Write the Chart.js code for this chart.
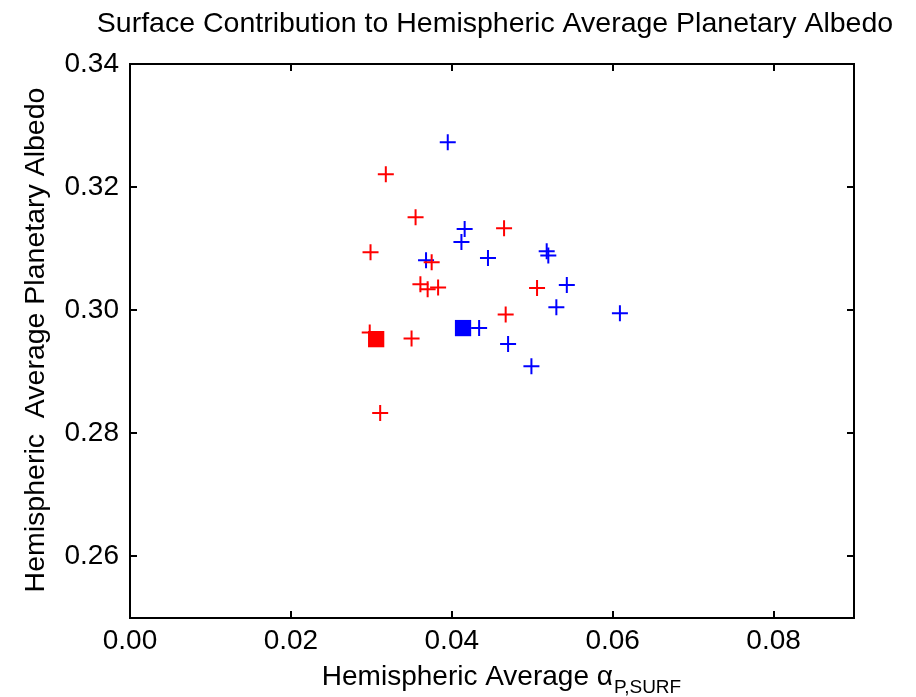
<!DOCTYPE html>
<html>
<head>
<meta charset="utf-8">
<script src="https://cdn.jsdelivr.net/npm/chart.js@4.4.1/dist/chart.umd.min.js"></script>
<style>
  html, body { margin:0; padding:0; background:#fff; }
  #wrap { width:916px; height:697px; }
</style>
</head>
<body>
<div id="wrap"><canvas id="c" width="916" height="697"></canvas></div>
<script>
// values
const redX  = [0.0318, 0.0355, 0.0465, 0.0299, 0.0375, 0.0361, 0.0370, 0.0383, 0.0506, 0.0467, 0.0298, 0.0350, 0.0311];
const redY  = [0.3221, 0.3151, 0.3133, 0.3094, 0.3078, 0.3042, 0.3034, 0.3037, 0.3036, 0.2993, 0.2964, 0.2954, 0.2833];
const blueX = [0.0395, 0.0416, 0.0412, 0.0368, 0.0445, 0.0518, 0.0520, 0.0543, 0.0530, 0.0609, 0.0434, 0.0470, 0.0499];
const blueY = [0.3273, 0.3132, 0.3111, 0.3081, 0.3085, 0.3096, 0.3089, 0.3041, 0.3005, 0.2995, 0.2971, 0.2945, 0.2909];
const redSquare  = [0.0306, 0.2953];
const blueSquare = [0.0414, 0.2971];

const xTicks = [0.00, 0.02, 0.04, 0.06, 0.08];
const yTicks = [0.26, 0.28, 0.30, 0.32, 0.34];

const titleText = "Surface Contribution to Hemispheric Average Planetary Albedo";
const yTitle = "Hemispheric  Average Planetary Albedo";
const xTitleMain = "Hemispheric Average \u03b1";
const xTitleSub = "P,SURF";

const FONT = "'Liberation Sans', Arial, sans-serif";

function pts(xs, ys){ return xs.map((x,i)=>({x, y: ys[i]})); }

// frame, inward ticks and text
const decor = {
  id: 'decor',
  beforeDatasetsDraw(chart){
    const {ctx, chartArea:a, scales} = chart;
    ctx.save();
    ctx.strokeStyle = '#000';
    ctx.lineWidth = 2;
    ctx.strokeRect(a.left, a.top, a.right - a.left, a.bottom - a.top);
    const tl = 7;
    ctx.beginPath();
    scales.x.ticks.forEach(t=>{
      const px = Math.round(scales.x.getPixelForValue(t.value));
      if(px <= a.left + 1) return;
      ctx.moveTo(px, a.bottom); ctx.lineTo(px, a.bottom - tl);
      ctx.moveTo(px, a.top); ctx.lineTo(px, a.top + tl);
    });
    scales.y.ticks.forEach(t=>{
      const py = Math.round(scales.y.getPixelForValue(t.value));
      if(py <= a.top + 1) return;
      ctx.moveTo(a.left, py); ctx.lineTo(a.left + tl, py);
      ctx.moveTo(a.right, py); ctx.lineTo(a.right - tl, py);
    });
    ctx.stroke();
    ctx.restore();
  },
  afterDraw(chart){
    const {ctx} = chart;
    ctx.save();
    ctx.fillStyle = '#000';
    // title
    ctx.font = "28.5px " + FONT;
    ctx.textAlign = 'center';
    ctx.textBaseline = 'alphabetic';
    ctx.fillText(titleText, 495, 32);
    // y title
    ctx.save();
    ctx.font = "28.5px " + FONT;
    ctx.translate(44, 340);
    ctx.rotate(-Math.PI/2);
    ctx.fillText(yTitle, 0, 0);
    ctx.restore();
    // x title with subscript
    ctx.textAlign = 'left';
    ctx.font = "28px " + FONT;
    const w1 = ctx.measureText(xTitleMain).width;
    ctx.font = "19px " + FONT;
    const w2 = ctx.measureText(xTitleSub).width;
    const x0 = 501 - (w1 + w2)/2;
    ctx.font = "28px " + FONT;
    ctx.fillText(xTitleMain, x0, 685);
    ctx.font = "19px " + FONT;
    ctx.fillText(xTitleSub, x0 + w1 + 1, 693);
    ctx.restore();
  }
};

const cross = (color, data) => ({
  data, pointStyle:'cross', pointRadius:8, pointHoverRadius:8,
  borderColor:color, backgroundColor:color, pointBorderWidth:2, showLine:false
});
const square = (color, data) => ({
  data, pointStyle:'rect', pointRadius:11.5, pointHoverRadius:11.5,
  borderColor:color, backgroundColor:color, pointBorderWidth:0, showLine:false
});

new Chart(document.getElementById('c'), {
  type: 'scatter',
  data: {
    datasets: [
      Object.assign(cross('#ff0000', pts(redX, redY)), {order:0}),
      Object.assign(square('#ff0000', [{x:redSquare[0], y:redSquare[1]}]), {order:0}),
      Object.assign(cross('#0000ff', pts(blueX, blueY)), {order:1}),
      Object.assign(square('#0000ff', [{x:blueSquare[0], y:blueSquare[1]}]), {order:1}),
    ]
  },
  options: {
    responsive:false,
    animation:false,
    devicePixelRatio:1,
    layout:{ padding:{ left:0, right:62, top:64, bottom:0 } },
    plugins:{ legend:{display:false}, tooltip:{enabled:false}, title:{display:false} },
    scales:{
      x:{
        type:'linear', min:0, max:0.09,
        afterBuildTicks: s => { s.ticks = xTicks.map(v=>({value:v})); },
        afterFit: s => { s.height = 79; },
        grid:{ display:false, drawTicks:false },
        border:{ display:false },
        ticks:{ color:'#000', font:{ family:FONT, size:28 }, padding:6, maxRotation:0,
                callback: v => Number(v).toFixed(2) }
      },
      y:{
        type:'linear', min:0.25, max:0.34,
        afterBuildTicks: s => { s.ticks = yTicks.map(v=>({value:v})); },
        afterFit: s => { s.width = 130; },
        grid:{ display:false, drawTicks:false },
        border:{ display:false },
        ticks:{ color:'#000', font:{ family:FONT, size:28 }, padding:11,
                callback: v => Number(v).toFixed(2) }
      }
    }
  },
  plugins:[decor]
});
</script>
</body>
</html>
